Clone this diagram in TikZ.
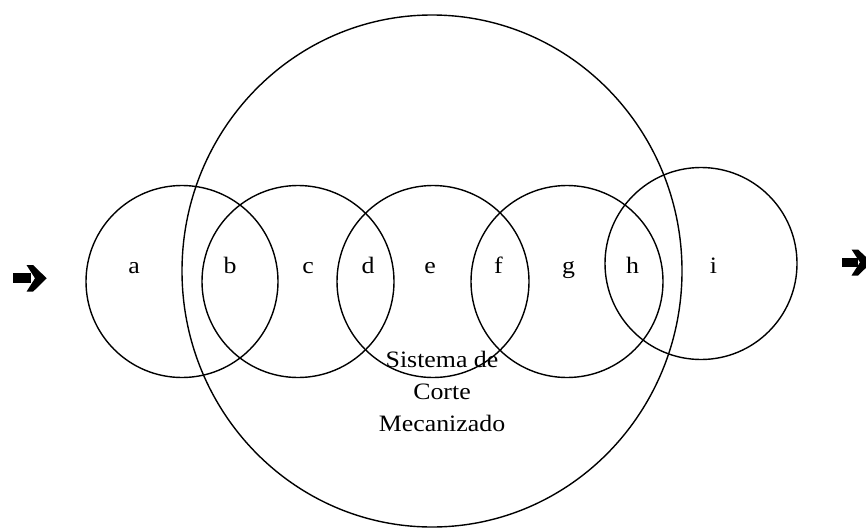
\documentclass[tikz,border=0pt]{standalone}
\usepackage{fontspec}
\setmainfont{Liberation Serif}[FakeStretch=1.1]
\usetikzlibrary{shapes.geometric}
\begin{document}
\begin{tikzpicture}[x=1pt,y=-1pt,
  ring/.style={draw=black,line width=1.4pt},
  lbl/.style={font=\fontsize{23.5}{32}\selectfont,anchor=base,inner sep=0pt},
  arrowshape/.style={fill=black,draw=none}]
\useasboundingbox (0,0) rectangle (866,527);
% big system ellipse
\node[ring,ellipse,minimum width=500pt,minimum height=512pt,inner sep=0pt] (sys) at (432,271) {};
% small circles
\node[ring,circle,minimum size=192pt,inner sep=0pt] (c1) at (182,281.5) {};
\node[ring,circle,minimum size=192pt,inner sep=0pt] (c2) at (298,281.5) {};
\node[ring,circle,minimum size=192pt,inner sep=0pt] (c3) at (433,281.5) {};
\node[ring,circle,minimum size=192pt,inner sep=0pt] (c4) at (567,281.5) {};
\node[ring,circle,minimum size=192pt,inner sep=0pt] (c5) at (701,263.5) {};
% labels
\node[lbl] (la) at (134,273.3) {a};
\node[lbl] (lb) at (230,273.3) {b};
\node[lbl] (lc) at (308,273.3) {c};
\node[lbl] (ld) at (368,273.3) {d};
\node[lbl] (le) at (430,273.3) {e};
\node[lbl] (lf) at (498.5,273.3) {f};
\node[lbl] (lg) at (568.5,273.3) {g};
\node[lbl] (lh) at (632.5,273.3) {h};
\node[lbl] (li) at (713.5,273.3) {i};
% system label
\node[font=\fontsize{23.5}{32}\selectfont,align=center,inner sep=0pt,anchor=center] (txt) at (442,391) {Sistema de\\Corte\\Mecanizado};
% input arrow
\fill[arrowshape] (12.7,273.3) rectangle (31,283.3);
\fill[arrowshape] (26.5,265) -- (33,265) -- (46.7,278.3) -- (33,291.7) -- (26.5,291.7) -- (35,278.3) -- cycle;
% output arrow
\fill[arrowshape] (841.7,258) rectangle (858,266.5);
\fill[arrowshape] (851.5,249.5) -- (858,249.5) -- (871.7,262.3) -- (858,275.5) -- (851.5,275.5) -- (860,262.3) -- cycle;
\end{tikzpicture}
\end{document}
